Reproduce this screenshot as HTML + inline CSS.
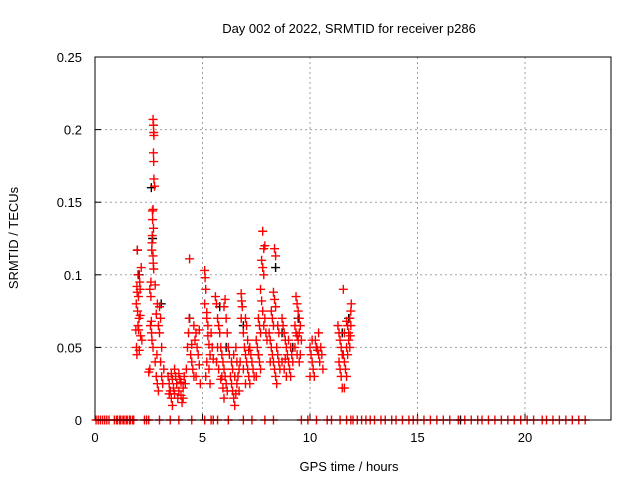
<!DOCTYPE html>
<html><head><meta charset="utf-8"><style>
body{margin:0;background:#fff}
svg text{font-family:"Liberation Sans",sans-serif;font-size:13px;fill:#000}
</style></head><body>
<svg id="chart" width="640" height="480" xmlns="http://www.w3.org/2000/svg">
<text x="349" y="33" text-anchor="middle">Day 002 of 2022, SRMTID for receiver p286</text>
<text transform="translate(18,238) rotate(-90)" text-anchor="middle">SRMTID / TECUs</text>
<text x="349" y="471" text-anchor="middle">GPS time / hours</text>
<g id="grid"></g>
<g id="ticks"></g>
<g id="black"></g>
<g id="red"></g>
<rect x="95" y="57" width="516" height="363" fill="none" stroke="#000" stroke-width="1"/>
</svg>
<script>
const xTicks=[0,5,10,15,20];
const yTicks=[0,0.05,0.1,0.15,0.2,0.25];
const yTickLabels=["0","0.05","0.1","0.15","0.2","0.25"];
const redHours=[1.9,1.92,1.95,1.97,2.0,2.02,2.05,2.0,1.93,1.95,2.08,2.1,2.12,2.15,1.98,2.03,2.06,1.96,2.1,2.18,
2.7,2.72,2.73,2.74,2.72,2.73,2.74,2.77,2.7,2.67,2.68,2.72,2.66,2.65,2.64,2.7,2.71,2.73,2.6,2.55,2.6,2.62,2.58,2.63,2.65,2.7,2.55,2.5,2.8,2.85,2.9,2.95,2.85,2.9,2.95,3.0,3.05,3.0,3.1,3.05,3.1,2.88,2.8,3.15,3.2,
3.4,3.45,3.5,3.55,3.6,3.65,3.7,3.75,3.8,3.85,3.9,3.95,4.0,4.05,4.1,4.15,4.2,4.25,3.55,3.7,3.9,4.0,4.1,3.45,3.6,
4.3,4.35,4.4,4.38,4.45,4.5,4.55,4.6,4.65,4.7,4.75,4.8,4.85,4.9,4.6,4.5,4.7,4.85,
5.1,5.12,5.15,5.1,5.2,5.2,5.25,5.3,5.35,5.2,5.3,5.15,5.4,5.45,5.5,5.35,5.25,
5.6,5.65,5.7,5.75,5.8,5.85,5.9,5.95,6.0,6.05,6.1,6.15,5.65,5.75,5.85,5.95,6.0,6.05,6.1,6.15,6.2,6.25,5.7,5.9,6.0,
6.3,6.35,6.4,6.45,6.5,6.55,6.6,6.65,6.7,6.75,6.4,6.5,6.6,6.7,6.45,6.55,6.35,
6.8,6.82,6.85,6.8,6.9,6.95,7.0,7.05,7.1,7.15,7.2,7.0,7.05,7.1,7.2,7.25,7.3,7.35,7.4,6.9,7.0,7.15,
7.8,7.85,7.9,7.75,7.8,7.85,7.7,7.75,7.8,7.6,7.65,7.7,7.5,7.55,7.6,7.65,7.7,7.5,7.9,7.95,8.0,7.85,
8.35,8.4,8.3,8.35,8.4,8.2,8.25,8.3,8.1,8.15,8.2,8.25,8.3,8.35,8.4,8.45,8.5,8.55,8.6,8.5,8.55,8.15,8.45,
8.7,8.75,8.8,8.85,8.9,8.95,9.0,9.05,9.1,8.7,8.8,8.9,9.0,9.1,9.15,9.2,8.85,
9.35,9.4,9.45,9.5,9.3,9.35,9.4,9.45,9.5,9.55,9.3,9.4,9.6,9.5,9.55,
10.0,10.05,10.1,10.15,10.2,10.25,10.3,10.35,10.4,10.45,10.5,10.55,10.6,10.1,10.4,10.0,
11.3,11.35,11.4,11.45,11.5,11.35,11.4,11.45,11.5,11.55,11.6,11.65,11.7,11.55,11.6,11.7,11.75,11.8,11.85,11.9,11.92,11.8,11.85,11.9,11.75,11.88,11.6,11.7];
const redValues=[.062,.08,.092,.117,.1,.085,.07,.065,.05,.045,.095,.09,.058,.105,.075,.062,.048,.088,.072,.055,
.207,.203,.198,.196,.184,.178,.166,.161,.145,.144,.138,.132,.127,.122,.117,.113,.108,.104,.095,.09,.085,.068,.065,.06,.055,.05,.035,.033,.04,.03,.025,.02,.073,.08,.065,.078,.07,.06,.05,.04,.03,.045,.093,.025,.035,
.03,.025,.02,.032,.028,.022,.018,.03,.025,.015,.02,.028,.017,.012,.022,.03,.025,.035,.015,.035,.032,.026,.015,.018,.01,
.05,.06,.111,.07,.045,.04,.035,.03,.055,.06,.05,.045,.038,.025,.065,.052,.03,.062,
.103,.098,.09,.08,.074,.07,.058,.052,.045,.04,.035,.03,.06,.05,.042,.025,.065,
.085,.08,.07,.065,.06,.05,.045,.04,.035,.03,.025,.02,.04,.035,.028,.022,.078,.083,.07,.06,.05,.045,.05,.03,.015,
.03,.025,.02,.015,.01,.018,.025,.03,.035,.04,.035,.03,.04,.02,.045,.05,.04,
.087,.082,.078,.07,.06,.05,.045,.04,.035,.03,.025,.07,.065,.055,.05,.045,.04,.035,.03,.035,.025,.048,
.13,.118,.12,.11,.105,.1,.09,.082,.075,.07,.065,.06,.055,.05,.045,.04,.035,.03,.07,.06,.055,.065,
.118,.113,.088,.083,.078,.075,.07,.065,.06,.055,.05,.045,.04,.035,.03,.05,.045,.04,.035,.065,.06,.04,.025,
.07,.065,.06,.055,.05,.045,.04,.035,.03,.04,.035,.03,.055,.05,.045,.04,.042,
.085,.08,.075,.07,.065,.06,.058,.055,.06,.065,.05,.045,.055,.04,.045,
.05,.045,.04,.035,.03,.055,.05,.048,.045,.04,.05,.045,.035,.055,.06,.03,
.065,.06,.055,.05,.045,.04,.035,.03,.022,.045,.04,.035,.03,.09,.06,.05,.065,.06,.07,.075,.08,.055,.05,.065,.045,.058,.022,.068];
const blackHours=[1.97,2.05,2.62,2.68,3.08,4.4,5.8,6.1,6.9,7.6,8.4,8.7,9.2,9.45,10.3,11.5,11.8,17.0];
const blackValues=[.117,.1,.16,.125,.08,.07,.078,.05,.065,.045,.105,.06,.05,.07,.05,.06,.07,0];
const zeroHours=[0.05,0.15,0.25,0.35,0.45,0.55,0.65,0.9,1.0,1.05,1.15,1.2,1.3,1.35,1.45,1.5,1.6,1.65,1.75,1.8,2.3,2.4,2.5,3.0,3.5,3.9,4.5,5.1,5.4,5.5,5.7,6.2,6.9,7.3,7.9,8.3,9.6,9.9,10.3,10.8,11.0,11.4,11.7,11.9,12.0,12.2,12.4,12.6,12.8,13.0,13.3,13.5,13.8,14.0,14.3,14.6,14.8,15.0,15.3,15.6,15.9,16.2,16.5,16.9,17.2,17.5,17.8,18.0,18.3,18.6,18.9,19.2,19.5,19.8,20.1,20.4,20.8,21.0,21.3,21.6,21.9,22.2,22.5,22.8];
const X0=95,X1=611,Y0=420,Y1=57,XMAX=24,YMAX=0.25;
function xs(h){return X0+(X1-X0)*h/XMAX;}
function ys(v){return Y0-(Y0-Y1)*v/YMAX;}
const NS="http://www.w3.org/2000/svg";
function mk(tag,attrs,parent){const e=document.createElementNS(NS,tag);for(const k in attrs)e.setAttribute(k,attrs[k]);parent.appendChild(e);return e;}
const grid=document.getElementById('grid'),ticks=document.getElementById('ticks');
xTicks.forEach(t=>{const x=xs(t);
 if(t>0){const l=mk('line',{x1:x,x2:x,y1:Y1,y2:Y0,stroke:'#a0a0a0','stroke-dasharray':'2,3'},grid);
 
 }
 const tk=mk('line',{x1:x,x2:x,y1:Y0,y2:Y0-6,stroke:'#000'},ticks);
 
 
 const tx=mk('text',{x:x,y:Y0+22,'text-anchor':'middle'},ticks);tx.textContent=String(t);
 
 });
yTicks.forEach((t,i)=>{const y=ys(t);
 if(t>0&&t<YMAX){const l=mk('line',{x1:X0,x2:X1,y1:y,y2:y,stroke:'#a0a0a0','stroke-dasharray':'2,3'},grid);
 
 }
 const tk=mk('line',{x1:X0,x2:X0+6,y1:y,y2:y,stroke:'#000'},ticks);
 
 
 const tx=mk('text',{x:X0-13,y:y+5,'text-anchor':'end'},ticks);tx.textContent=yTickLabels[i];
 
 });
function plus(h,v,color,parent){const x=xs(h),y=ys(v);
 const p=mk('path',{d:`M${x-4.5},${y}H${x+4.5}M${x},${y-4.5}V${y+4.5}`,stroke:color,'stroke-width':1.4,fill:'none'},parent);
 
 }
const bg=document.getElementById('black'),rg=document.getElementById('red');
blackHours.forEach((h,i)=>plus(h,blackValues[i],'#000',bg));
redHours.forEach((h,i)=>plus(h,redValues[i],'#f00',rg));
zeroHours.forEach(h=>plus(h,0,'#f00',rg));
</script>
</body></html>
